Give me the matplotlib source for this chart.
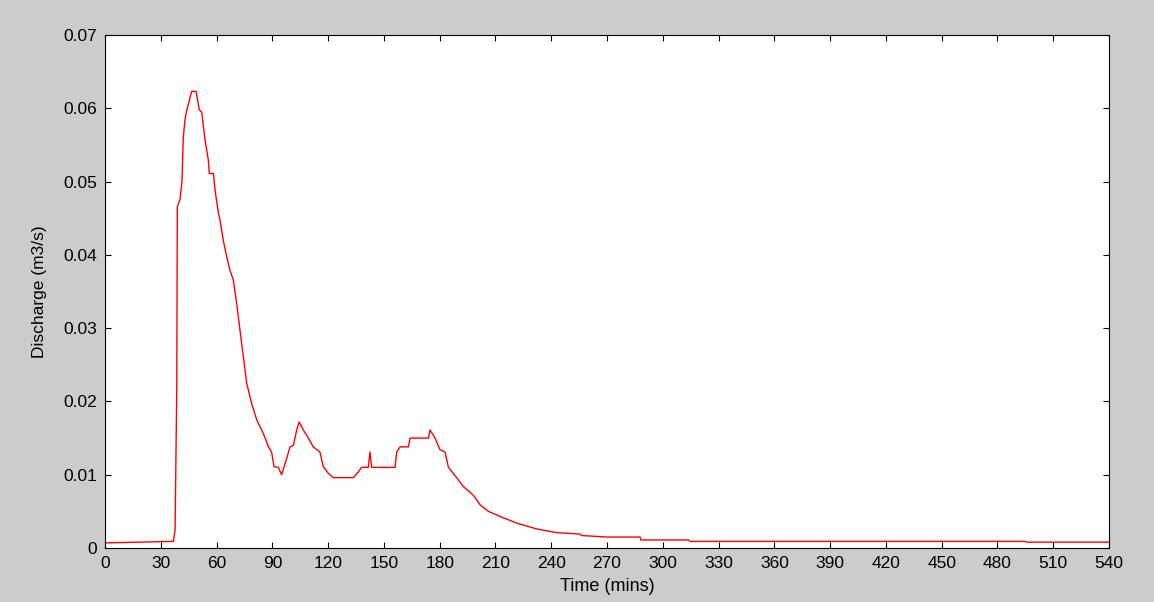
import matplotlib
matplotlib.use("Agg")
import matplotlib.pyplot as plt
import numpy as np

plt.rcParams['font.family'] = ['Liberation Sans', 'DejaVu Sans']

time_min = [0, 36.8, 37.7, 38.6, 38.9, 40.3, 41.4, 42.1, 43.0, 43.9, 44.8, 46.6, 49.0,
            50.7, 52.0, 53.8, 55.6, 56.1, 58.3, 59.2, 61.0, 61.9, 63.6, 65.5, 67.2,
            69.0, 70.8, 72.6, 74.4, 76.2, 78.9, 81.6, 85.2, 87.9, 89.6, 90.9, 93.2,
            95.0, 97.7, 99.5, 101.3, 103.1, 104.4, 106.7, 109.4, 112.0, 115.6, 117.4,
            120.1, 122.8, 133.6, 136.3, 138.0, 141.6, 142.5, 143.4, 156.0, 156.9,
            158.7, 163.2, 164.1, 174.0, 174.8, 177.5, 180.2, 182.9, 184.7, 187.3,
            192.7, 198.1, 201.7, 206.2, 212.5, 221.4, 232.2, 243.0, 255.5, 256.4,
            269.9, 287.8, 288.2, 313.8, 314.7, 495.0, 496.0, 540.0]
discharge = [0.0007, 0.0009, 0.0025, 0.022, 0.0466, 0.0475, 0.050, 0.056, 0.0584, 0.0597,
             0.0605, 0.0623, 0.0623, 0.0598, 0.0595, 0.0557, 0.0529, 0.0511, 0.0511,
             0.0488, 0.0457, 0.0447, 0.0420, 0.0397, 0.0379, 0.0366, 0.0334, 0.0297,
             0.0261, 0.0225, 0.0197, 0.0175, 0.0156, 0.0138, 0.0131, 0.0111, 0.0110,
             0.0100, 0.0122, 0.0138, 0.0140, 0.0161, 0.0172, 0.0161, 0.0150, 0.0138,
             0.0131, 0.0111, 0.0102, 0.0096, 0.0096, 0.0104, 0.0110, 0.0110, 0.0131,
             0.0110, 0.0110, 0.0131, 0.0138, 0.0138, 0.0150, 0.0150, 0.0161, 0.0150,
             0.0134, 0.0131, 0.0110, 0.0102, 0.0084, 0.0072, 0.0059, 0.0050, 0.0043,
             0.0034, 0.0026, 0.0021, 0.0019, 0.0017, 0.0015, 0.0015, 0.0011, 0.0011,
             0.0009, 0.0009, 0.0008, 0.0008]

x_ticks = list(range(0, 541, 30))
y_ticks = [0, 0.01, 0.02, 0.03, 0.04, 0.05, 0.06, 0.07]
y_tick_labels = ['0', '0.01', '0.02', '0.03', '0.04', '0.05', '0.06', '0.07']

fig = plt.figure(figsize=(11.54, 6.02), dpi=100, facecolor='#cccccc')
ax = fig.add_axes([105/1154, 1 - 548/602, (1109-105)/1154, (548-35)/602])
ax.set_facecolor('white')

ax.plot(time_min, discharge, color='#ff0000', linewidth=1.0)

ax.set_xlim(0, 540)
ax.set_ylim(0, 0.07)
ax.set_xticks(x_ticks)
ax.set_xticklabels([str(t) for t in x_ticks])
ax.set_yticks(y_ticks)
ax.set_yticklabels(y_tick_labels)

ax.tick_params(direction='in', length=4, width=0.8, top=True, right=True,
               labelsize=12.5, colors='black')
ax.tick_params(axis='x', pad=5.5)
ax.tick_params(axis='y', pad=5.5)
for s in ax.spines.values():
    s.set_linewidth(0.8)
    s.set_color('black')

ax.set_xlabel('Time (mins)', fontsize=13, labelpad=5.5)
ax.set_ylabel('Discharge (m3/s)', fontsize=12.5, labelpad=12)

fig.savefig('out.png', dpi=100, facecolor=fig.get_facecolor())
